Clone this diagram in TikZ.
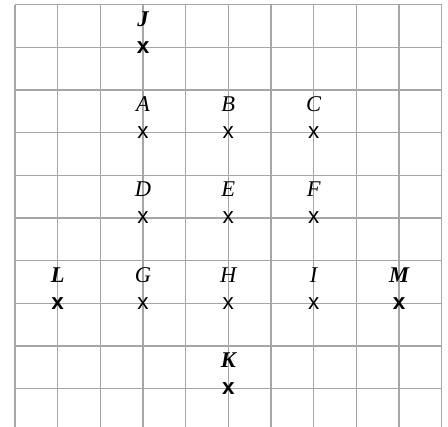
\documentclass[tikz,border=0pt]{standalone}
\usepackage{fontspec}
\setmainfont{Liberation Serif}
\newfontfamily\crossfont{Liberation Sans}
\begin{document}
\begin{tikzpicture}[x=1cm,y=1cm,
  gridline/.style={draw=gray!70,line width=0.7pt},
  lbl/.style={anchor=base,inner sep=0pt,font=\fontsize{15}{17}\selectfont\itshape},
  blbl/.style={anchor=base,inner sep=0pt,font=\fontsize{15}{17}\selectfont\bfseries\itshape},
  cross/.style={inner sep=0pt,font=\fontsize{15}{17}\selectfont\crossfont},
  bcross/.style={inner sep=0pt,font=\fontsize{15}{17}\selectfont\crossfont\bfseries}]
\useasboundingbox (-0.352,-9.897) rectangle (10.148,0.110);
% grid
\foreach \i in {0,...,10} \draw[gridline] (\i,0) -- (\i,-9.897);
\foreach \j in {0,...,9} \draw[gridline] (0,-\j) -- (10,-\j);
% points
\node[bcross] (xJ) at (3,-1) {x};
\node[blbl] (lJ) at (3,-0.5) {J};
\node[cross] (xA) at (3,-3) {x};
\node[lbl] (lA) at (3,-2.5) {A};
\node[cross] (xB) at (5,-3) {x};
\node[lbl] (lB) at (5,-2.5) {B};
\node[cross] (xC) at (7,-3) {x};
\node[lbl] (lC) at (7,-2.5) {C};
\node[cross] (xD) at (3,-5) {x};
\node[lbl] (lD) at (3,-4.5) {D};
\node[cross] (xE) at (5,-5) {x};
\node[lbl] (lE) at (5,-4.5) {E};
\node[cross] (xF) at (7,-5) {x};
\node[lbl] (lF) at (7,-4.5) {F};
\node[bcross] (xL) at (1,-7) {x};
\node[blbl] (lL) at (1,-6.5) {L};
\node[cross] (xG) at (3,-7) {x};
\node[lbl] (lG) at (3,-6.5) {G};
\node[cross] (xH) at (5,-7) {x};
\node[lbl] (lH) at (5,-6.5) {H};
\node[cross] (xI) at (7,-7) {x};
\node[lbl] (lI) at (7,-6.5) {I};
\node[bcross] (xM) at (9,-7) {x};
\node[blbl] (lM) at (9,-6.5) {M};
\node[bcross] (xK) at (5,-9) {x};
\node[blbl] (lK) at (5,-8.5) {K};
\end{tikzpicture}
\end{document}
